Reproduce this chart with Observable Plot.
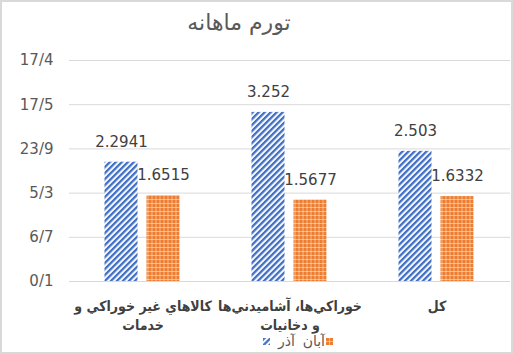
<!DOCTYPE html>
<html>
<head>
<meta charset="utf-8">
<script src="https://cdn.jsdelivr.net/npm/d3@7"></script>
<script src="https://cdn.jsdelivr.net/npm/@observablehq/plot@0.6"></script>
<style>
  html, body { margin: 0; padding: 0; background: #fff; }
  #wrap { position: relative; width: 513px; height: 354px; overflow: hidden; background: #fff; }
  #frame { position: absolute; left: 0; top: 0; width: 513px; height: 354px; box-sizing: border-box; border: 2px solid #d9d9d9; pointer-events: none; }
  #title { position: absolute; left: 0; top: 8px; width: 478px; text-align: center; font: 22px "DejaVu Sans", sans-serif; line-height: 30px; color: #595959; direction: rtl; }
  #chart { position: absolute; left: 0; top: 0; }
  .lg { position: absolute; font: 14px "DejaVu Sans", sans-serif; color: #595959; line-height: 16px; direction: rtl; white-space: nowrap; }
  .sw { position: absolute; }
</style>
</head>
<body>
<svg width="0" height="0" style="position:absolute">
  <defs>
    <pattern id="stripeBlue" width="4.24" height="4.24" patternUnits="userSpaceOnUse" patternTransform="rotate(45)">
      <rect width="4.24" height="4.24" fill="#ffffff"></rect>
      <rect width="2.3" height="4.24" fill="#4472C4"></rect>
    </pattern>
    <pattern id="gridOrange" width="4" height="4" patternUnits="userSpaceOnUse">
      <rect width="4" height="4" fill="#ED7D31"></rect>
      <rect x="3" y="0" width="1" height="4" fill="#ffffff" opacity="0.45"></rect>
      <rect x="0" y="3" width="4" height="1" fill="#ffffff" opacity="0.45"></rect>
    </pattern>
  </defs>
</svg>
<div id="wrap">
  <div id="title">تورم ماهانه</div>
  <div id="chart"></div>
  <div id="frame"></div>
</div>
<script>
const categories = ["كالاهاي غير خوراكي و خدمات", "خوراكي‌ها، آشاميدني‌ها و دخانيات", "كل"];
const categoryLabels = ["كالاهاي غير خوراكي و\nخدمات", "خوراكي‌ها، آشاميدني‌ها\nو دخانيات", "كل"];
const series = ["آذر", "آبان"];
const azarValues = [2.2941, 3.252, 2.503];
const abanValues = [1.6515, 1.5677, 1.6332];
const valueLabels = { "آذر": ["2.2941", "3.252", "2.503"], "آبان": ["1.6515", "1.5677", "1.6332"] };
const yTicks = [0, 0.85, 1.7, 2.55, 3.4, 4.25];
const yTickLabels = ["0/1", "6/7", "5/3", "23/9", "17/5", "17/4"];
const seriesFill = { "آذر": "url(#stripeBlue)", "آبان": "url(#gridOrange)" };

const rows = [];
categories.forEach((c, i) => {
  rows.push({ category: c, series: series[0], value: azarValues[i], label: valueLabels[series[0]][i] });
  rows.push({ category: c, series: series[1], value: abanValues[i], label: valueLabels[series[1]][i] });
});
const catLabel = new Map(categories.map((c, i) => [c, categoryLabels[i]]));
const yLabel = new Map(yTicks.map((t, i) => [t, yTickLabels[i]]));

const chart = Plot.plot({
  width: 513,
  height: 354,
  marginTop: 60,
  marginBottom: 73,
  marginLeft: 68.5,
  marginRight: 3.5,
  style: { fontFamily: "DejaVu Sans, sans-serif", background: "transparent" },
  fx: { domain: categories, padding: 0 },
  x: { domain: series, paddingInner: 0.214, paddingOuter: 0.857, axis: null },
  y: { domain: [0, 4.25] },
  marks: [
    Plot.gridY(yTicks, { stroke: "#d9d9d9", strokeOpacity: 1, strokeWidth: 1 }),
    Plot.barY(rows, { filter: d => d.series === series[0], fx: "category", x: "series", y: "value", fill: seriesFill[series[0]] }),
    Plot.barY(rows, { filter: d => d.series === series[1], fx: "category", x: "series", y: "value", fill: seriesFill[series[1]] }),
    Plot.text(rows, { fx: "category", x: "series", y: "value", text: "label", dy: -20, fontSize: 15, fill: "#404040" }),
    Plot.axisY({ ticks: yTicks, tickFormat: d => yLabel.get(d), tickSize: 0, tickPadding: 16, fontSize: 15, color: "#595959", label: null }),
    Plot.axisFx({ anchor: "bottom", tickSize: 0, tickPadding: 15, tickFormat: d => catLabel.get(d), fontSize: 14, fontWeight: "bold", fontFamily: "DejaVu Sans Condensed, DejaVu Sans, sans-serif", lineHeight: 1.42, color: "#404040", label: null })
  ]
});
document.getElementById("chart").appendChild(chart);

// legend (HTML, absolutely placed items)
const wrap = document.getElementById("wrap");
function swatch(fill, left) {
  const s = document.createElementNS("http://www.w3.org/2000/svg", "svg");
  s.setAttribute("width", 7); s.setAttribute("height", 7);
  s.setAttribute("class", "sw");
  s.style.left = left + "px"; s.style.top = "338px";
  const r = document.createElementNS("http://www.w3.org/2000/svg", "rect");
  r.setAttribute("width", 7); r.setAttribute("height", 7); r.setAttribute("fill", fill);
  s.appendChild(r);
  wrap.insertBefore(s, document.getElementById("frame"));
}
function txt(t, right) {
  const d = document.createElement("div");
  d.className = "lg"; d.textContent = t;
  d.style.right = (513 - right) + "px"; d.style.top = "333px";
  wrap.insertBefore(d, document.getElementById("frame"));
}
swatch(seriesFill[series[0]], 263);
txt(series[0], 295);
txt(series[1], 325);
swatch(seriesFill[series[1]], 326);
</script>
</body>
</html>
